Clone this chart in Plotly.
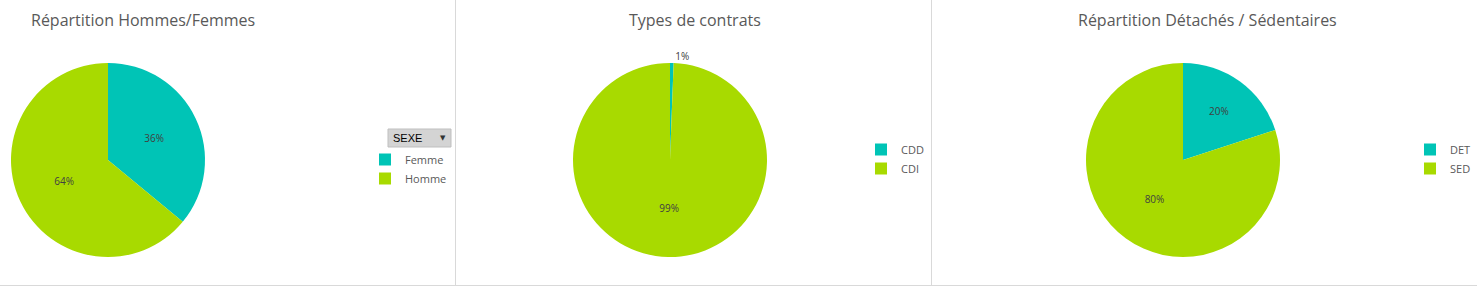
import plotly.graph_objects as go

W, H = 1477, 287

# Data
sexe_labels = ["Femme", "Homme"]
sexe_values = [36, 64]
contrat_labels = ["CDD", "CDI"]
contrat_values = [0.6, 99.4]
det_labels = ["DET", "SED"]
det_values = [20, 80]

titles = ["Répartition Hommes/Femmes", "Types de contrats", "Répartition Détachés / Sédentaires"]

TEAL = "#00C4B6"
GREEN = "#A8DA00"
TXT = "#595959"
FONT = "Open Sans"

def px_dom_x(cx, r):
    return [(cx - r) / W, (cx + r) / W]

def px_dom_y(cy, r):
    return [1 - (cy + r) / H, 1 - (cy - r) / H]

R = 97
CY = 160

fig = go.Figure()

common = dict(sort=False, direction="clockwise", rotation=0,
              marker=dict(colors=[TEAL, GREEN]),
              texttemplate="%{percent:.0%}", insidetextorientation="horizontal",
              textfont=dict(size=10, color="#404040", family=FONT),
              hoverinfo="label+percent")

fig.add_trace(go.Pie(labels=sexe_labels, values=sexe_values, textposition="inside",
                     domain=dict(x=px_dom_x(108, R), y=px_dom_y(CY, R)),
                     legend="legend", **common))
fig.add_trace(go.Pie(labels=contrat_labels, values=contrat_values, textposition=["outside", "inside"],
                     domain=dict(x=px_dom_x(670, R), y=px_dom_y(CY, R)),
                     legend="legend2", **common))
fig.add_trace(go.Pie(labels=det_labels, values=det_values, textposition="inside",
                     domain=dict(x=px_dom_x(1183, R), y=px_dom_y(CY, R)),
                     legend="legend3", **common))

legfont = dict(size=11, color=TXT, family=FONT)
def leg(xpx, ypx):
    return dict(x=xpx / W, y=1 - ypx / H, xref="container", yref="container",
                xanchor="left", yanchor="top",
                font=legfont, bgcolor="rgba(0,0,0,0)", itemwidth=30, tracegroupgap=0)

shapes = []
line_col = "#D9D9D9"
for xs in [455.5, 931.5]:
    shapes.append(dict(type="line", xref="paper", yref="paper", x0=xs / W, x1=xs / W,
                       y0=1 - 285 / H, y1=1, line=dict(color=line_col, width=1)))
shapes.append(dict(type="line", xref="paper", yref="paper", x0=0, x1=1,
                   y0=1 - 285.5 / H, y1=1 - 285.5 / H, line=dict(color=line_col, width=1)))
# SEXE filter button
shapes.append(dict(type="rect", xref="paper", yref="paper", x0=388 / W, x1=451 / W,
                   y0=1 - 147 / H, y1=1 - 129 / H, line=dict(color="#BFBFBF", width=1),
                   fillcolor="#D4D4D4"))

annotations = []
title_cx = [143, 695, 1207]
for t, cx in zip(titles, title_cx):
    annotations.append(dict(text=t, x=cx / W, y=1 - 20 / H, xref="paper", yref="paper",
                            xanchor="center", yanchor="middle", showarrow=False,
                            font=dict(size=16, color=TXT, family=FONT)))
annotations.append(dict(text="SEXE", x=391 / W, y=1 - 138 / H, xref="paper", yref="paper",
                        xanchor="left", yanchor="middle", showarrow=False,
                        font=dict(size=11, color="#000000", family="Arial")))
annotations.append(dict(text="▼", x=443 / W, y=1 - 138 / H, xref="paper", yref="paper",
                        xanchor="center", yanchor="middle", showarrow=False,
                        font=dict(size=7, color="#333333", family="DejaVu Sans")))

fig.update_layout(
    width=W, height=H, margin=dict(l=0, r=0, t=0, b=0, autoexpand=False),
    paper_bgcolor="white", plot_bgcolor="white",
    showlegend=True,
    legend=leg(365, 145),
    legend2=leg(861, 135),
    legend3=leg(1410, 135),
    shapes=shapes, annotations=annotations,
)

fig.write_html("out.html")
